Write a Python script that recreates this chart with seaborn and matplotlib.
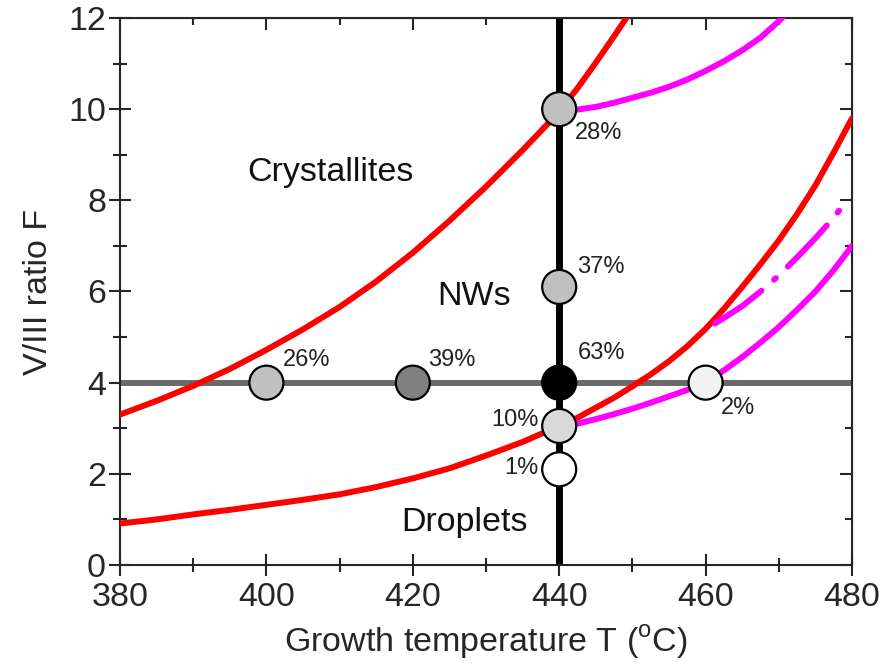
import matplotlib
matplotlib.use("Agg")
import matplotlib.pyplot as plt
from matplotlib.ticker import MultipleLocator
import seaborn as sns
import pandas as pd

# phase boundaries (T in degC, F = V/III ratio)
upper_red_T = [380, 385, 390, 395, 400, 405, 410, 415, 420, 425, 430, 432.5, 435, 437.5,
               440, 442.5, 445, 447.5, 450]
upper_red_F = [3.30, 3.60, 3.93, 4.30, 4.72, 5.17, 5.66, 6.22, 6.85, 7.55, 8.30, 8.70, 9.10, 9.52,
               9.95, 10.46, 11.02, 11.60, 12.20]

lower_red_T = [380, 385, 390, 395, 400, 405, 410, 415, 420, 425, 430, 435, 440, 442.5, 445,
               447.5, 450, 452.5, 455, 457.5, 460, 462.5, 465, 467.5, 470, 472.5, 475, 477.5, 480]
lower_red_F = [0.91, 1.00, 1.11, 1.21, 1.32, 1.43, 1.55, 1.71, 1.90, 2.12, 2.40, 2.70, 3.05, 3.23, 3.45,
               3.67, 3.92, 4.18, 4.47, 4.80, 5.18, 5.62, 6.10, 6.60, 7.12, 7.70, 8.33, 9.05, 9.80]

upper_mag_T = [440, 442.5, 445, 447.5, 450, 452.5, 455, 457.5, 460, 462.5, 465, 467.5, 470, 472.5]
upper_mag_F = [9.95, 9.99, 10.05, 10.14, 10.25, 10.36, 10.49, 10.65, 10.84, 11.05, 11.29, 11.57, 11.93, 12.35]

dashed_mag_T = [461.3, 462.5, 465, 467.5, 470, 472.5, 475, 477.5, 479.3]
dashed_mag_F = [5.30, 5.42, 5.68, 6.00, 6.35, 6.75, 7.17, 7.62, 8.00]

lower_mag_T = [440, 442.5, 445, 447.5, 450, 452.5, 455, 457.5, 460, 462.5, 465, 467.5, 470,
               472.5, 475, 477.5, 480]
lower_mag_F = [3.05, 3.10, 3.20, 3.31, 3.43, 3.56, 3.70, 3.84, 4.02, 4.27, 4.56, 4.88, 5.22,
               5.60, 6.00, 6.47, 7.00]

# experiments
exp_T = [400, 420, 440, 440, 440, 440, 440, 460]
exp_F = [4, 4, 4, 10, 6.1, 3.05, 2.1, 4]
exp_label = ["26%", "39%", "63%", "28%", "37%", "10%", "1%", "2%"]
exp_fill = ["#c0c0c0", "#808080", "#000000", "#c0c0c0", "#c0c0c0", "#d9d9d9", "#ffffff", "#f2f2f2"]

sns.set_style("ticks")
plt.rcParams["font.family"] = ["Liberation Sans", "DejaVu Sans"]
plt.rcParams["mathtext.fontset"] = "custom"
plt.rcParams["mathtext.rm"] = "Liberation Sans"

fig = plt.figure(figsize=(8.83, 6.64), dpi=100)
ax = fig.add_axes([0.1359, 0.1491, 0.8290, 0.8238])

# constant-F and constant-T lines
ax.axhline(4, color="#6a6a6a", lw=4.3, zorder=1)
ax.axvline(440, color="black", lw=5.0, zorder=2)

red = "#ff0000"
mag = "#ff00ff"
lw = 4.3
sns.lineplot(x=upper_red_T, y=upper_red_F, ax=ax, color=red, lw=lw, sort=False, zorder=3)
sns.lineplot(x=lower_red_T, y=lower_red_F, ax=ax, color=red, lw=lw, sort=False, zorder=3)
sns.lineplot(x=upper_mag_T, y=upper_mag_F, ax=ax, color=mag, lw=lw, sort=False, zorder=3,
             solid_capstyle="round")
sns.lineplot(x=lower_mag_T, y=lower_mag_F, ax=ax, color=mag, lw=lw, sort=False, zorder=3,
             solid_capstyle="round")
sns.lineplot(x=dashed_mag_T, y=dashed_mag_F, ax=ax, color=mag, lw=lw, sort=False, zorder=3,
             linestyle=(0, (9.5, 2.8, 0.4, 2.8)), dash_capstyle="round")

pts = pd.DataFrame({"T": exp_T, "F": exp_F, "lab": exp_label})
sns.scatterplot(data=pts, x="T", y="F", hue="lab", palette=dict(zip(exp_label, exp_fill)),
                s=600, edgecolor="black", linewidth=1.6, legend=False, ax=ax, zorder=5)

# percentage labels, offsets in points from each marker
offsets = {"26%": (12, 16, "left"), "39%": (11, 16, "left"), "63%": (13, 21, "left"),
           "28%": (11, -17, "left"), "37%": (13, 14, "left"), "10%": (-15, 4, "right"),
           "1%": (-15, 1, "right"), "2%": (11, -18, "left")}
for t, f, lab in zip(exp_T, exp_F, exp_label):
    dx, dy, ha = offsets[lab]
    ax.annotate(lab, (t, f), xytext=(dx, dy), textcoords="offset points",
                ha=ha, va="center", fontsize=17, color="#222222", zorder=6)

ax.text(408.7, 8.6, "Crystallites", fontsize=24.5, ha="center", va="center", color="#111111")
ax.text(428.4, 5.9, "NWs", fontsize=24.5, ha="center", va="center", color="#111111")
ax.text(427.1, 0.94, "Droplets", fontsize=24.5, ha="center", va="center", color="#111111")

ax.set_xlim(380, 480)
ax.set_ylim(0, 12)
ax.xaxis.set_major_locator(MultipleLocator(20))
ax.xaxis.set_minor_locator(MultipleLocator(10))
ax.yaxis.set_major_locator(MultipleLocator(2))
ax.yaxis.set_minor_locator(MultipleLocator(1))
ax.tick_params(which="major", direction="inout", length=16, width=1.5, labelsize=24.5, pad=4)
ax.tick_params(which="minor", direction="inout", length=10, width=1.5)
ax.tick_params(axis="y", pad=2)
for sp in ax.spines.values():
    sp.set_linewidth(1.5)
    sp.set_visible(True)

# inward ticks on top and right
top = ax.secondary_xaxis("top")
top.xaxis.set_major_locator(MultipleLocator(20))
top.xaxis.set_minor_locator(MultipleLocator(10))
top.tick_params(which="major", direction="in", length=8.5, width=1.5, labeltop=False)
top.tick_params(which="minor", direction="in", length=5, width=1.5)
right = ax.secondary_yaxis("right")
right.yaxis.set_major_locator(MultipleLocator(2))
right.yaxis.set_minor_locator(MultipleLocator(1))
right.tick_params(which="major", direction="in", length=8.5, width=1.5, labelright=False)
right.tick_params(which="minor", direction="in", length=5, width=1.5)

ax.set_xlabel(r"Growth temperature T ($^{\rm o}$C)", fontsize=24.5, labelpad=8)
ax.set_ylabel("V/III ratio F", fontsize=24.5, labelpad=10)

fig.savefig("out.png", dpi=100)
plt.close(fig)
